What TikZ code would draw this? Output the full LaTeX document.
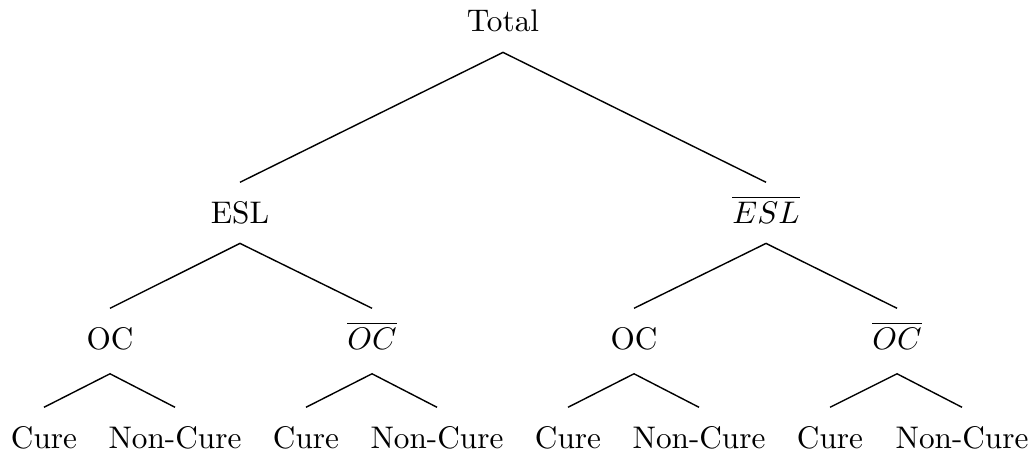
\documentclass[tikz,border=0pt]{standalone}
\begin{document}
\begin{tikzpicture}[x=0.32pt,y=-0.32pt,
  tn/.style={anchor=base, inner sep=3.33pt, text height=9.5pt, text depth=3pt},
  tnoc/.style={tn, text depth=4.4pt},
  br/.style={line width=0.45pt}]
\useasboundingbox (0,0) rectangle (1031,453);
\node[tn] (total) at (503,32) {Total};
\node[tn] (esl) at (240,223) {ESL};
\node[tn] (nesl) at (766,223) {$\overline{ESL}$};
\node[tnoc] (oc1) at (110,349) {OC};
\node[tnoc] (noc1) at (372,349) {$\overline{OC}$};
\node[tnoc] (oc2) at (634,349) {OC};
\node[tnoc] (noc2) at (897,349) {$\overline{OC}$};
\node[tn] (c1) at (44,448) {Cure};
\node[tn] (n1) at (175,448) {Non-Cure};
\node[tn] (c2) at (306,448) {Cure};
\node[tn] (n2) at (437,448) {Non-Cure};
\node[tn] (c3) at (568,448) {Cure};
\node[tn] (n3) at (699,448) {Non-Cure};
\node[tn] (c4) at (830,448) {Cure};
\node[tn] (n4) at (962,448) {Non-Cure};
\draw[br] (esl.north) -- (total.south) -- (nesl.north);
\draw[br] (oc1.north) -- (esl.south) -- (noc1.north);
\draw[br] (oc2.north) -- (nesl.south) -- (noc2.north);
\draw[br] (c1.north) -- (oc1.south) -- (n1.north);
\draw[br] (c2.north) -- (noc1.south) -- (n2.north);
\draw[br] (c3.north) -- (oc2.south) -- (n3.north);
\draw[br] (c4.north) -- (noc2.south) -- (n4.north);
\end{tikzpicture}
\end{document}
